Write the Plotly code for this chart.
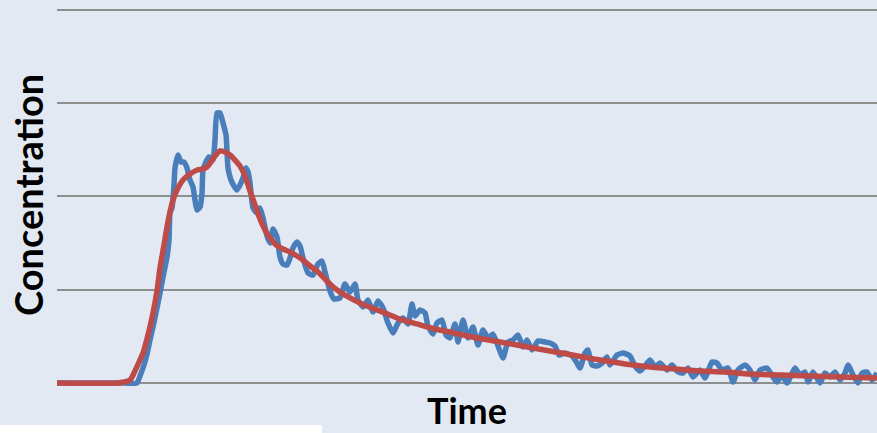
import plotly.graph_objects as go

# Measured tracer signal (time in s, concentration in mg/L)
measured_time = [
    0, 21.5, 34, 40, 41.5, 43.5, 45, 46.5, 48, 50, 51.5, 53.5, 55, 56, 56.5, 57.5, 58.5, 59,
    60.5, 62, 63.5, 65, 66.5, 68, 69, 70, 71.5, 72.5, 73, 74.5, 76, 77, 78, 79, 80, 81.5,
    83, 84.5, 85.5, 87, 88.5, 90, 91.5, 93, 94.5, 95.5, 96.5, 98, 100, 101.5, 103, 105,
    106.5, 108, 110, 111.5, 113, 115, 116.5, 118, 120, 121.5, 123, 125.5, 128, 130.5,
    132.5, 134, 136.5, 138.5, 141.5, 144, 146.5, 149, 150.5, 153, 155.5, 158, 160.5, 163,
    165.5, 168, 170.5, 173, 175.5, 177.5, 179, 181.5, 184, 185.5, 188, 190, 192.5, 194.5,
    196.5, 199, 200.5, 203, 205.5, 208, 210.5, 213, 215.5, 218, 220.5, 223, 225.5, 228,
    230.5, 233, 235, 237.5, 240.5, 244, 246.5, 249, 251, 254, 257.5, 260, 261.5, 264,
    265.5, 267.5, 270, 272.5, 275, 276.5, 280, 283, 286.5, 289, 291.5, 294, 296.5, 299,
    301.5, 305, 307.5, 310.5, 313, 315.5, 318, 321.5, 324, 327.5, 330, 332.5, 335.5, 338,
    340.5, 344, 346.5, 349, 351.5, 355, 358, 360, 362.5, 365, 369, 371.5, 374, 375.5, 378,
    381.5, 384, 386.5, 389, 391.5, 394, 395.5, 398, 400.5, 402.5, 405, 407.5, 410,
]
measured_conc = [
    0, 0, 0, 0, 0.75, 1.93, 3.11, 4.61, 6.01, 8.04, 9.65, 11.90, 13.51, 15.34, 18.23, 18.77,
    21.23, 23.06, 24.45, 23.70, 23.70, 23.06, 21.77, 21.02, 19.62, 18.55, 18.87, 20.38,
    22.84, 23.70, 24.24, 24.13, 23.91, 26.06, 28.95, 28.95, 27.88, 26.60, 23.06, 21.77,
    21.13, 20.70, 21.23, 21.98, 23.06, 22.63, 21.45, 18.77, 18.23, 18.77, 17.69, 15.76,
    15.01, 16.51, 15.66, 13.51, 12.76, 12.65, 13.41, 14.48, 15.12, 14.69, 13.41, 11.80,
    11.58, 12.76, 13.08, 11.90, 9.87, 9.01, 9.12, 10.62, 9.76, 10.62, 8.90, 8.15, 8.90,
    7.61, 8.79, 8.04, 6.43, 5.36, 6.43, 6.97, 6.33, 8.47, 7.19, 7.83, 7.51, 6.11, 5.25,
    6.43, 6.76, 5.15, 4.83, 6.33, 4.40, 6.76, 4.83, 6.01, 4.08, 5.68, 4.83, 5.25, 3.97,
    2.68, 4.40, 4.61, 5.15, 3.86, 4.61, 3.54, 4.50, 4.40, 4.29, 3.97, 3.00, 3.22, 2.90,
    2.14, 1.61, 3.22, 3.54, 1.93, 1.82, 2.14, 2.79, 1.93, 3.00, 3.22, 2.90, 1.82, 1.29,
    1.82, 2.47, 1.72, 2.14, 1.39, 1.93, 1.18, 1.07, 1.61, 0.64, 1.39, 0.54, 2.25, 2.14,
    1.39, 1.61, 0.11, 1.39, 1.93, 1.39, 0.32, 1.39, 1.61, 0.64, 0.11, 0.86, 0, 1.61, 0.86,
    1.18, 0.11, 1.18, 0, 1.07, 0.64, 1.18, 0.32, 1.07, 1.93, 0.86, 0, 1.07, 1.18, 0.32,
    1.07,
]

# Smoothed model curve
fit_time = [
    0, 30.5, 33.5, 36.5, 39, 41, 43, 45.5, 48, 50, 51.5, 53.5, 55, 56.5, 58, 60, 63, 66.5,
    70, 73, 75, 77, 79, 81.5, 84, 86.5, 89, 91.5, 94, 96.5, 99, 101.5, 104, 106.5, 109.5,
    113, 116.5, 120, 123, 126.5, 130, 133.5, 137.5, 141.5, 146.5, 151.5, 157.5, 164,
    171.5, 180, 189, 196.5, 205, 213, 221.5, 230, 238, 246.5, 255, 263, 271.5, 284,
    296.5, 309, 321.5, 334, 346.5, 361.5, 376.5, 391.5, 410,
]
fit_conc = [
    0, 0, 0.11, 0.32, 1.29, 2.25, 3.22, 5.15, 7.51, 9.87, 12.33, 14.80, 16.73, 18.34,
    19.62, 20.70, 21.77, 22.41, 22.84, 22.95, 23.16, 23.70, 24.34, 24.88, 24.77, 24.45,
    23.91, 23.27, 22.20, 20.59, 19.09, 17.59, 16.41, 15.55, 14.80, 14.37, 14.05, 13.62,
    13.19, 12.55, 12.01, 11.26, 10.40, 9.76, 9.12, 8.58, 8.04, 7.51, 6.86, 6.33, 5.79,
    5.47, 5.04, 4.72, 4.40, 4.08, 3.75, 3.43, 3.11, 2.79, 2.47, 2.04, 1.72, 1.50, 1.29,
    1.18, 0.97, 0.86, 0.75, 0.64, 0.54,
]

BG = "#e2e9f3"
Y_TITLE_FONT = dict(family="Lato", size=38, color="#000000")
X_TITLE_FONT = dict(family="Lato", size=36, color="#000000")

fig = go.Figure()
fig.add_trace(go.Scatter(
    x=measured_time, y=measured_conc, mode="lines", name="Measured",
    line=dict(color="#4a7ebb", width=5.5, shape="spline", smoothing=0.5),
))
fig.add_trace(go.Scatter(
    x=fit_time, y=fit_conc, mode="lines", name="Fit",
    line=dict(color="#be4b48", width=5.5, shape="spline", smoothing=0.8),
))

fig.update_layout(
    width=877, height=433,
    margin=dict(l=57, r=0, t=0, b=43),
    paper_bgcolor=BG, plot_bgcolor=BG,
    showlegend=False,
    xaxis=dict(range=[0, 410], showgrid=False, zeroline=False,
               showticklabels=False, ticks="", showline=False),
    yaxis=dict(range=[-0.75, 41.07], tick0=0, dtick=10, showgrid=True,
               gridcolor="#8e8e8e", gridwidth=2, zeroline=False,
               showticklabels=False, ticks="", showline=False),
    annotations=[
        dict(text="<b>Time</b>", xref="paper", yref="paper", x=0.5, y=-0.052,
             xanchor="center", yanchor="middle", showarrow=False, font=X_TITLE_FONT),
        dict(text="<b>Concentration</b>", xref="paper", yref="paper", x=-0.0354, y=0.5,
             xanchor="center", yanchor="middle", textangle=-90, showarrow=False,
             font=Y_TITLE_FONT),
    ],
    shapes=[
        dict(type="rect", xref="paper", yref="paper", x0=-0.0695, x1=0.323,
             y0=-0.0897, y1=-0.12, fillcolor="#ffffff", line=dict(width=0),
             layer="above"),
    ],
)

fig.write_html("out.html")
